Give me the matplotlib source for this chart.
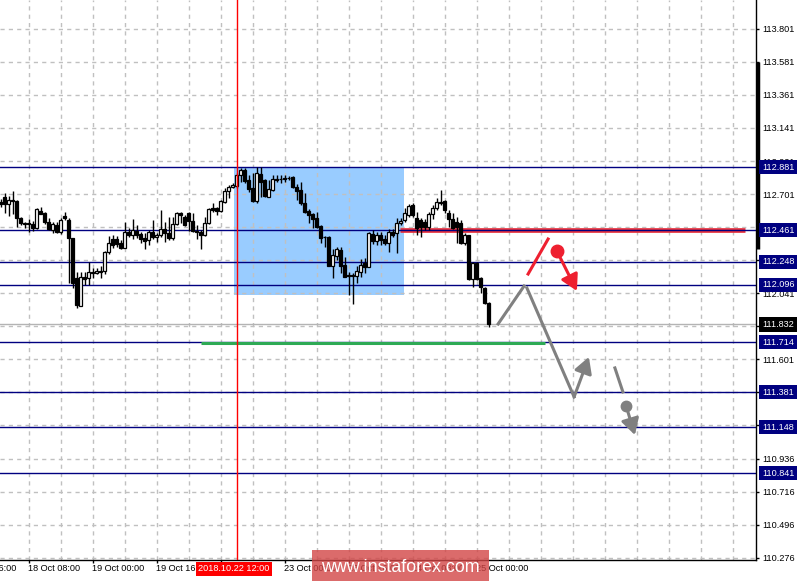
import matplotlib
matplotlib.use('Agg')
import matplotlib.pyplot as plt
from matplotlib.patches import Rectangle
from matplotlib.transforms import blended_transform_factory

# H1 bars, oldest first (bar index 0 .. 122)
opens = [
    112.648, 112.681, 112.635, 112.661, 112.655, 112.541, 112.508, 112.508, 112.501, 112.475,
    112.588, 112.575, 112.515, 112.461, 112.495, 112.448, 112.555, 112.528, 112.408, 112.141,
    111.955, 112.148, 112.141, 112.181, 112.175, 112.188, 112.188, 112.315, 112.401, 112.401,
    112.375, 112.341, 112.448, 112.428, 112.455, 112.435, 112.408, 112.395, 112.448, 112.415,
    112.428, 112.468, 112.441, 112.408, 112.501, 112.575, 112.548, 112.575, 112.521, 112.455,
    112.448, 112.428, 112.508, 112.608, 112.608, 112.588, 112.648, 112.721, 112.748, 112.755,
    112.828, 112.861, 112.795, 112.741, 112.655, 112.835, 112.795, 112.681, 112.728, 112.801,
    112.801, 112.808, 112.808, 112.815, 112.748, 112.728, 112.641, 112.588, 112.568, 112.541,
    112.488, 112.415, 112.415, 112.221, 112.288, 112.328, 112.228, 112.161, 112.161, 112.155,
    112.181, 112.241, 112.215, 112.435, 112.388, 112.428, 112.401, 112.375, 112.448, 112.441,
    112.508, 112.528, 112.561, 112.628, 112.541, 112.528, 112.515, 112.481, 112.568, 112.608,
    112.648, 112.655, 112.575, 112.535, 112.515, 112.508, 112.375, 112.428, 112.135, 112.241,
    112.141, 112.075, 111.975]
highs = [
    112.668, 112.708, 112.688, 112.721, 112.658, 112.548, 112.515, 112.535, 112.521, 112.608,
    112.615, 112.578, 112.541, 112.515, 112.515, 112.541, 112.581, 112.541, 112.411, 112.181,
    112.181, 112.181, 112.248, 112.208, 112.208, 112.221, 112.318, 112.421, 112.428, 112.421,
    112.395, 112.515, 112.475, 112.535, 112.495, 112.448, 112.441, 112.461, 112.528, 112.441,
    112.595, 112.515, 112.548, 112.548, 112.581, 112.581, 112.561, 112.581, 112.575, 112.495,
    112.461, 112.548, 112.608, 112.641, 112.615, 112.661, 112.741, 112.761, 112.775, 112.841,
    112.875, 112.875, 112.828, 112.841, 112.881, 112.881, 112.798, 112.795, 112.828, 112.828,
    112.828, 112.828, 112.821, 112.821, 112.768, 112.781, 112.708, 112.601, 112.575, 112.581,
    112.495, 112.421, 112.418, 112.335, 112.348, 112.348, 112.281, 112.181, 112.175, 112.221,
    112.268, 112.275, 112.448, 112.461, 112.448, 112.448, 112.428, 112.468, 112.468, 112.541,
    112.541, 112.608, 112.635, 112.641, 112.581, 112.541, 112.535, 112.581, 112.628, 112.675,
    112.728, 112.658, 112.595, 112.575, 112.548, 112.528, 112.441, 112.431, 112.245, 112.245,
    112.145, 112.081, 111.981]
lows = [
    112.615, 112.575, 112.555, 112.568, 112.481, 112.495, 112.475, 112.448, 112.455, 112.468,
    112.565, 112.501, 112.461, 112.441, 112.441, 112.435, 112.528, 112.108, 112.075, 111.941,
    111.952, 112.095, 112.095, 112.141, 112.168, 112.141, 112.168, 112.301, 112.341, 112.348,
    112.335, 112.338, 112.415, 112.401, 112.408, 112.375, 112.335, 112.361, 112.401, 112.381,
    112.415, 112.381, 112.395, 112.395, 112.495, 112.508, 112.491, 112.455, 112.451, 112.401,
    112.335, 112.421, 112.501, 112.581, 112.561, 112.581, 112.641, 112.675, 112.741, 112.741,
    112.781, 112.775, 112.715, 112.648, 112.641, 112.681, 112.681, 112.678, 112.721, 112.781,
    112.775, 112.781, 112.795, 112.741, 112.661, 112.628, 112.575, 112.508, 112.475, 112.475,
    112.375, 112.348, 112.218, 112.141, 112.261, 112.175, 112.145, 112.028, 111.968, 112.108,
    112.148, 112.175, 112.212, 112.368, 112.361, 112.361, 112.361, 112.315, 112.415, 112.308,
    112.495, 112.515, 112.548, 112.548, 112.428, 112.415, 112.461, 112.461, 112.535, 112.595,
    112.628, 112.575, 112.481, 112.468, 112.375, 112.368, 112.361, 112.131, 112.081, 112.128,
    112.041, 111.971, 111.815]
closes = [
    112.635, 112.635, 112.661, 112.655, 112.541, 112.508, 112.501, 112.501, 112.475, 112.601,
    112.568, 112.515, 112.468, 112.501, 112.448, 112.528, 112.541, 112.408, 112.108, 111.961,
    112.148, 112.135, 112.181, 112.175, 112.188, 112.181, 112.315, 112.375, 112.361, 112.368,
    112.341, 112.448, 112.428, 112.461, 112.428, 112.401, 112.388, 112.448, 112.415, 112.428,
    112.468, 112.441, 112.408, 112.501, 112.575, 112.561, 112.495, 112.521, 112.455, 112.448,
    112.428, 112.508, 112.601, 112.595, 112.588, 112.655, 112.721, 112.748, 112.761, 112.828,
    112.861, 112.788, 112.735, 112.655, 112.841, 112.781, 112.688, 112.735, 112.801, 112.795,
    112.799, 112.801, 112.806, 112.748, 112.721, 112.641, 112.581, 112.561, 112.535, 112.481,
    112.408, 112.413, 112.221, 112.295, 112.335, 112.221, 112.148, 112.155, 112.155, 112.188,
    112.228, 112.215, 112.441, 112.388, 112.428, 112.395, 112.375, 112.448, 112.428, 112.508,
    112.521, 112.575, 112.621, 112.561, 112.475, 112.481, 112.481, 112.568, 112.608, 112.648,
    112.641, 112.595, 112.535, 112.475, 112.481, 112.375, 112.428, 112.135, 112.241, 112.135,
    112.081, 111.975, 111.832]

# Price scale and horizontal levels
grid_prices = [113.801, 113.581, 113.361, 113.141, 112.921, 112.701, 112.481, 112.261, 112.041,
               111.821, 111.601, 111.381, 111.161, 110.936, 110.716, 110.496, 110.276]
levels = [112.881, 112.461, 112.248, 112.096, 111.714, 111.381, 111.148, 110.841]
last_price = 111.832

# Time axis
time_label_bars = [-9, 7, 23, 39, 55, 71, 87, 103, 119]
time_labels = ["17 Oct 16:00", "18 Oct 08:00", "19 Oct 00:00", "19 Oct 16:00", "22 Oct 08:00",
               "23 Oct 00:00", "23 Oct 16:00", "24 Oct 08:00", "25 Oct 00:00"]
cursor_bar = 59
cursor_label = "2018.10.22 12:00"

# Drawn objects (bar index, price)
zone_bars = [58.4, 100.9]
zone_prices = [112.025, 112.881]
red_level = 112.461
red_level_bars = [99.9, 186.1]
green_level = 111.706
green_level_bars = [50.1, 136.1]

gray_leg1_bars, gray_leg1_prices = [124.4, 130.9], [111.835, 112.088]
gray_leg2_bars, gray_leg2_prices = [131.6, 143.4], [112.075, 111.349]
gray_arrow1 = [(143.4, 111.349), (147.1, 111.615)]
gray_tick_bars, gray_tick_prices = [153.6, 155.6], [111.542, 111.382]
gray_dot = (156.4, 111.289)
gray_arrow2 = [(156.4, 111.289), (158.6, 111.095)]
red_tick_bars, red_tick_prices = [131.9, 136.9], [112.168, 112.401]
red_dot = (139.1, 112.321)
red_arrow = [(139.1, 112.321), (144.1, 112.055)]

NAVY = '#000080'
GRID = '#c0c0c0'
RED = '#ee2030'
GRAY = '#808080'
FONT = 'Liberation Sans'


def main():
    plt.rcParams['font.family'] = [FONT, 'DejaVu Sans']
    fig = plt.figure(figsize=(7.99, 5.81), dpi=100)
    ax = fig.add_axes([0, 21 / 581, 756 / 799, 560 / 581])
    ax.set_xlim(-0.125, 188.875)
    ax.set_ylim(110.262, 113.994)

    # Grid
    for v in range(7, 189, 8):
        ax.axvline(v, color=GRID, ls=(0, (3, 3)), lw=1, zorder=1)
    for p in grid_prices:
        ax.axhline(p, color=GRID, ls=(0, (3, 3)), lw=1, zorder=1)

    # Blue zone
    ax.add_patch(Rectangle((zone_bars[0], zone_prices[0]), zone_bars[1] - zone_bars[0],
                           zone_prices[1] - zone_prices[0], facecolor='#99ccff', edgecolor='none', zorder=0.5))

    # Bid line
    ax.axhline(last_price, color='#b4b4b4', lw=1, zorder=1.5)

    # Red / green levels
    ax.plot(red_level_bars, [red_level] * 2, color='#e8303c', lw=3.4, solid_capstyle='butt', zorder=2)
    ax.plot(green_level_bars, [green_level] * 2, color='#2eaa55', lw=2.2, solid_capstyle='butt', zorder=2.4)

    # Horizontal lines
    for lv in levels:
        ax.axhline(lv, color=NAVY, lw=1, zorder=2.2)

    # Cursor
    ax.axvline(cursor_bar, color='red', lw=1, zorder=4)

    # Candles
    idx = list(range(len(opens)))
    ax.vlines(idx, lows, highs, color='black', lw=1, zorder=3)
    for i in idx:
        o, c = opens[i], closes[i]
        bottom = min(o, c)
        h = max(abs(c - o), 0.004)
        fc = 'white' if c >= o else 'black'
        ax.add_patch(Rectangle((i - 0.3, bottom), 0.6, h, facecolor=fc, edgecolor='black',
                               lw=0.9, zorder=3.1))

    # Forecast drawings
    ax.plot(gray_leg1_bars, gray_leg1_prices, color=GRAY, lw=2.2, zorder=5)
    ax.plot(gray_leg2_bars, gray_leg2_prices, color=GRAY, lw=2.2, zorder=5)
    ax.plot(gray_tick_bars, gray_tick_prices, color=GRAY, lw=2.2, zorder=5)
    ax.plot(red_tick_bars, red_tick_prices, color=RED, lw=2.2, zorder=5)
    ax.plot(*gray_dot, 'o', color=GRAY, ms=7.5, zorder=5)
    ax.plot(*red_dot, 'o', color=RED, ms=9, zorder=5)
    for (start, end), col in [(gray_arrow1, GRAY), (gray_arrow2, GRAY), (red_arrow, RED)]:
        ax.annotate('', xy=end, xytext=start, zorder=5,
                    arrowprops=dict(arrowstyle='-|>,head_length=0.8,head_width=0.45', color=col,
                                    lw=2.2, mutation_scale=12, shrinkA=0, shrinkB=0))

    # Axes frame
    for s in ['top', 'left']:
        ax.spines[s].set_visible(False)
    for s in ['right', 'bottom']:
        ax.spines[s].set_linewidth(1)
        ax.spines[s].set_color('black')

    # Price axis
    ax.yaxis.tick_right()
    ax.set_yticks(grid_prices)
    ax.set_yticklabels(["%.3f" % p for p in grid_prices])
    ax.tick_params(axis='y', direction='out', length=2.2, width=1, pad=2.2, labelsize=6.6)

    yt = blended_transform_factory(ax.transAxes, ax.transData)
    for lv in levels:
        ax.text(1 + 6 / 756, lv, "%.3f" % lv, transform=yt, ha='left', va='center', fontsize=6.6,
                color='white', clip_on=False, zorder=10,
                bbox=dict(boxstyle='square,pad=0.3', facecolor=NAVY, edgecolor='none'))
    ax.text(1 + 6 / 756, last_price, "%.3f" % last_price, transform=yt, ha='left', va='center',
            fontsize=6.6, color='white', clip_on=False, zorder=10,
            bbox=dict(boxstyle='square,pad=0.3', facecolor='black', edgecolor='none'))
    ax.plot([1 + 1.5 / 756] * 2, [113.581, 112.335], transform=yt, color='black', lw=2.5,
            solid_capstyle='butt', clip_on=False, zorder=9)

    # Time axis
    ax.set_xticks([b for b in time_label_bars if b >= 0])
    ax.tick_params(axis='x', direction='out', length=2.2, width=1, labelbottom=False)
    xt = blended_transform_factory(ax.transData, ax.transAxes)
    for b, lbl in zip(time_label_bars, time_labels):
        ax.text(b, -0.016, lbl, transform=xt, ha='left', va='center', fontsize=6.6, clip_on=False)
    ax.text(cursor_bar - 0.6, -0.016, cursor_label, transform=xt, ha='center', va='center', fontsize=6.6,
            color='white', clip_on=False, zorder=10,
            bbox=dict(boxstyle='square,pad=0.25', facecolor='red', edgecolor='none'))

    # Watermark
    fig.patches.append(Rectangle((312 / 799, 0), 177 / 799, 31 / 581, transform=fig.transFigure,
                                 facecolor='#d24646', alpha=0.8, edgecolor='none', zorder=20))
    fig.text(400 / 799, 14 / 581, "www.instaforex.com", ha='center', va='center', fontsize=12.9,
             color='white', zorder=21)

    fig.savefig('out.png', dpi=100)


if __name__ == "__main__":
    main()
